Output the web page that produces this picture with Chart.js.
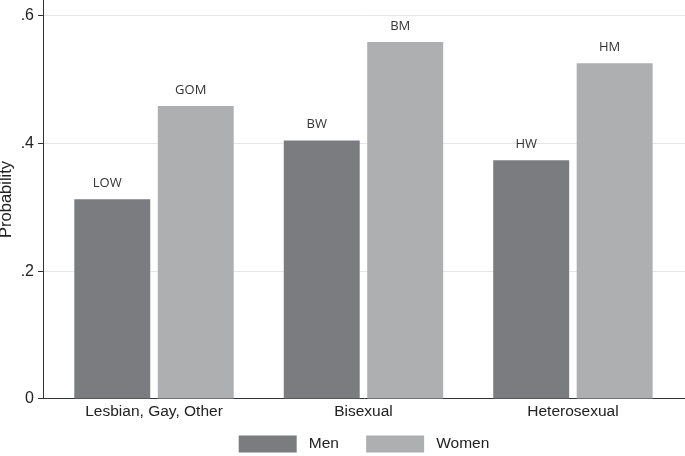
<!DOCTYPE html>
<html>
<head>
<meta charset="utf-8">
<script src="https://cdn.jsdelivr.net/npm/chart.js@4/dist/chart.umd.min.js"></script>
<style>
  html, body { margin: 0; padding: 0; background: #fff; }
  #wrap { width: 685px; height: 456px; position: relative; }
</style>
</head>
<body>
<div id="wrap"><canvas id="chart"></canvas></div>
<script>
const categories = ['Lesbian, Gay, Other', 'Bisexual', 'Heterosexual'];
const menValues = [0.313, 0.405, 0.374];
const womenValues = [0.459, 0.559, 0.526];
const menTags = ['LOW', 'BW', 'HW'];
const womenTags = ['GOM', 'BM', 'HM'];
const yTicks = [0, 0.2, 0.4, 0.6];
const yTickLabels = ['0', '.2', '.4', '.6'];

const menColor = '#7b7c80';
const womenColor = '#aeafb1';

// text above each bar, placed from the bar element itself
const barTags = {
    id: 'barTags',
    afterDatasetsDraw(chart) {
        const ctx = chart.ctx;
        const tags = [menTags, womenTags];
        ctx.save();
        ctx.font = '13px "Open Sans"';
        ctx.fillStyle = '#333';
        ctx.textAlign = 'center';
        ctx.textBaseline = 'middle';
        chart.data.datasets.forEach((ds, di) => {
            chart.getDatasetMeta(di).data.forEach((bar, i) => {
                ctx.fillText(tags[di][i], bar.x - 5, bar.y - 16);
            });
        });
        ctx.restore();
    }
};

new Chart(document.getElementById('chart'), {
    type: 'bar',
    data: {
        datasets: [
            {
                label: 'Men',
                data: menValues.map((v, i) => ({ x: i, y: v })),
                backgroundColor: menColor,
                borderWidth: 0
            },
            {
                label: 'Women',
                data: womenValues.map((v, i) => ({ x: i, y: v })),
                backgroundColor: womenColor,
                borderWidth: 0
            }
        ]
    },
    options: {
        responsive: true,
        maintainAspectRatio: false,
        animation: false,
        categoryPercentage: 0.797,
        barPercentage: 0.91,
        layout: { padding: { top: 0, right: 0, left: 0, bottom: -6.5 } },
        scales: {
            x: {
                type: 'linear',
                min: -0.53,
                max: 2.535,
                offset: false,
                afterBuildTicks: (scale) => {
                    scale.ticks = categories.map((c, i) => ({ value: i }));
                },
                afterFit: (scale) => { scale.paddingLeft = 0; scale.paddingRight = 0; },
                ticks: {
                    callback: (v) => categories[v],
                    color: '#222',
                    font: { family: 'Liberation Sans', size: 15.5 },
                    padding: 4,
                    maxRotation: 0,
                    autoSkip: false
                },
                grid: { display: false, drawTicks: false },
                border: { display: true, color: '#333', width: 1 }
            },
            y: {
                min: 0,
                max: 0.625,
                afterBuildTicks: (scale) => {
                    scale.ticks = yTicks.map(v => ({ value: v }));
                },
                afterFit: (scale) => {
                    scale.width = 43;
                    scale.paddingTop = 0;
                    scale.paddingBottom = 0;
                },
                ticks: {
                    callback: (v) => yTickLabels[yTicks.indexOf(v)],
                    color: '#222',
                    font: { family: 'Liberation Sans', size: 16 },
                    padding: 4
                },
                grid: {
                    color: '#e6e6e6',
                    lineWidth: 1,
                    tickColor: '#333',
                    tickLength: 5
                },
                border: { display: true, color: '#333', width: 1 },
                title: {
                    display: true,
                    text: 'Probability',
                    color: '#222',
                    font: { family: 'Liberation Sans', size: 16.5, lineHeight: 0.8 },
                    padding: 0
                }
            }
        },
        plugins: {
            legend: {
                position: 'bottom',
                fullSize: false,
                labels: {
                    boxWidth: 58,
                    boxHeight: 17,
                    padding: 10,
                    color: '#222',
                    font: { family: 'Liberation Sans', size: 15.5 },
                    generateLabels: (chart) => {
                        const items = Chart.defaults.plugins.legend.labels.generateLabels(chart);
                        // widen the gaps box-to-text and item-to-item
                        items.forEach((it, i) => {
                            it.text = ' ' + it.text + (i === 0 ? '    ' : '');
                            it.lineWidth = 0;
                        });
                        return items;
                    }
                }
            },
            tooltip: { enabled: false }
        }
    },
    plugins: [barTags]
});
</script>
</body>
</html>
